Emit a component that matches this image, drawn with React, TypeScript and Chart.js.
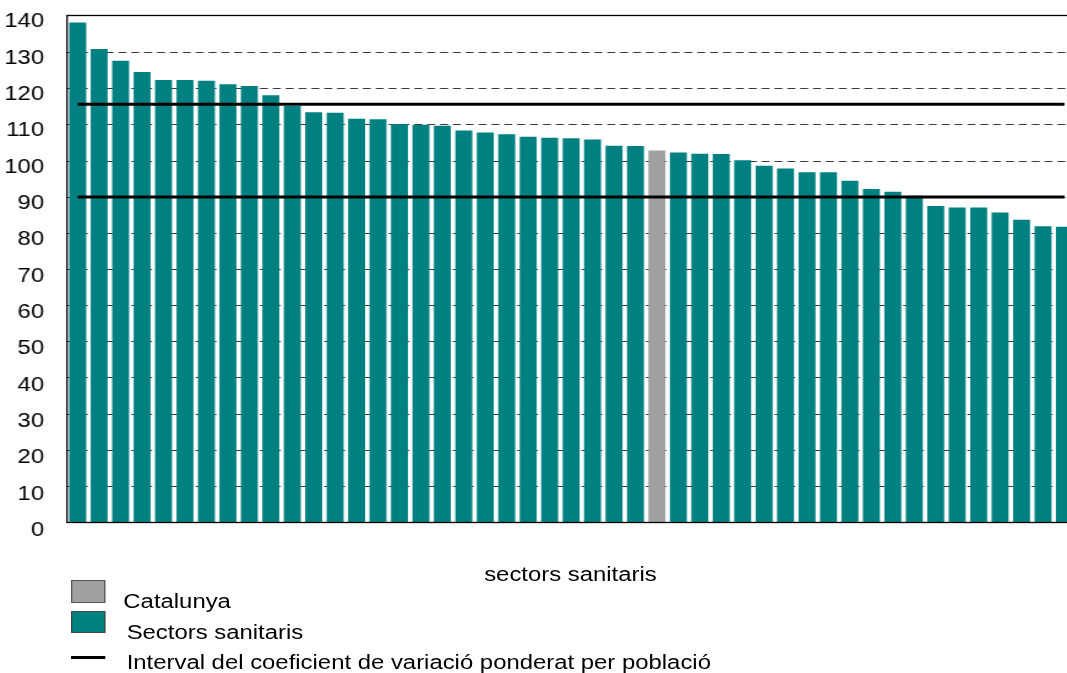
import React, { useEffect, useRef } from "react";
import { Chart, registerables } from "chart.js";

Chart.register(...registerables);

// ---- data ----
const sectorLabels = [
  "S01", "S02", "S03", "S04", "S05", "S06", "S07", "S08", "S09", "S10",
  "S11", "S12", "S13", "S14", "S15", "S16", "S17", "S18", "S19", "S20",
  "S21", "S22", "S23", "S24", "S25", "S26", "S27", "Catalunya", "S28", "S29",
  "S30", "S31", "S32", "S33", "S34", "S35", "S36", "S37", "S38", "S39",
  "S40", "S41", "S42", "S43", "S44", "S45", "S46",
];

const sectorValues = [
  138.2, 130.9, 127.6, 124.5, 122.3, 122.3, 122.1, 121.1, 120.6, 118.1,
  115.1, 113.4, 113.2, 111.6, 111.4, 110.1, 109.9, 109.6, 108.3, 107.8,
  107.3, 106.6, 106.3, 106.2, 105.8, 104.1, 104.0, null, 102.2, 101.9,
  101.8, 100.1, 98.6, 97.8, 96.8, 96.8, 94.4, 92.1, 91.4, 90.3,
  87.4, 87.0, 87.0, 85.6, 83.6, 81.8, 81.7,
];

const catalunyaValues = [
  null, null, null, null, null, null, null, null, null, null,
  null, null, null, null, null, null, null, null, null, null,
  null, null, null, null, null, null, null, 102.8, null, null,
  null, null, null, null, null, null, null, null, null, null,
  null, null, null, null, null, null, null,
];

const upperInterval = 115.6;
const lowerInterval = 89.9;

const yTickLabels = [0, 10, 20, 30, 40, 50, 60, 70, 80, 90, 100, 110, 120, 130, 140];

const xTitle = "sectors sanitaris";
const legendCatalunya = "Catalunya";
const legendSectors = "Sectors sanitaris";
const legendInterval = "Interval del coeficient de variació ponderat per població";

// ---- styling ----
const STRETCH = 1.225;
const CANVAS_W = 880;
const CANVAS_H = 673;
const FONT = '"Liberation Sans", Arial, sans-serif';
const TEAL = "#008080";
const GRAY = "#a0a0a0";

const decorPlugin = {
  id: "decor",
  beforeDatasetsDraw(chart: any) {
    const { ctx, chartArea } = chart;
    const y = chart.scales.y;
    ctx.save();
    ctx.strokeStyle = "#3a3a3a";
    ctx.lineWidth = 1;
    ctx.setLineDash([6.5, 4]);
    yTickLabels.forEach((v) => {
      if (v === 0 || v === 140) return;
      const py = Math.round(y.getPixelForValue(v)) + 0.5;
      ctx.beginPath();
      ctx.moveTo(chartArea.left, py);
      ctx.lineTo(chartArea.right, py);
      ctx.stroke();
    });
    ctx.restore();
  },
  afterDraw(chart: any) {
    const { ctx, chartArea } = chart;
    const y = chart.scales.y;
    ctx.save();
    ctx.strokeStyle = "#000";
    ctx.lineWidth = 1.3;
    ctx.setLineDash([]);
    ctx.strokeRect(
      chartArea.left,
      chartArea.top - 0.5,
      chartArea.right - chartArea.left,
      chartArea.bottom - chartArea.top + 1
    );
    ctx.fillStyle = "#000";
    ctx.font = `19.5px ${FONT}`;
    ctx.textAlign = "right";
    ctx.textBaseline = "middle";
    yTickLabels.forEach((v) => {
      ctx.fillText(String(v), 36, y.getPixelForValue(v) + 6 + (140 - v) * 0.02);
    });
    ctx.restore();
  },
};

export default function App() {
  const canvasRef = useRef<HTMLCanvasElement | null>(null);

  useEffect(() => {
    const canvas = canvasRef.current;
    if (!canvas) return;
    const left = 67 / STRETCH;
    const plotW = (47 * 21.45) / STRETCH;
    const chart = new Chart(canvas, {
      type: "bar",
      data: {
        labels: sectorLabels,
        datasets: [
          {
            type: "line",
            label: "Interval superior",
            data: sectorLabels.map(() => upperInterval),
            borderColor: "#000",
            borderWidth: 3,
            pointRadius: 0,
            fill: false,
            order: 0,
          } as any,
          {
            type: "line",
            label: "Interval inferior",
            data: sectorLabels.map(() => lowerInterval),
            borderColor: "#000",
            borderWidth: 3,
            pointRadius: 0,
            fill: false,
            order: 0,
          } as any,
          {
            type: "bar",
            label: legendSectors,
            data: sectorValues,
            backgroundColor: TEAL,
            borderWidth: 0,
            grouped: false,
            barPercentage: 0.79,
            categoryPercentage: 1,
            order: 1,
          } as any,
          {
            type: "bar",
            label: legendCatalunya,
            data: catalunyaValues,
            backgroundColor: GRAY,
            borderWidth: 0,
            grouped: false,
            barPercentage: 0.79,
            categoryPercentage: 1,
            order: 1,
          } as any,
        ],
      },
      options: {
        responsive: false,
        animation: false,
        devicePixelRatio: 1,
        layout: {
          autoPadding: false,
          padding: {
            left: left,
            top: 16,
            right: CANVAS_W - left - plotW,
            bottom: CANVAS_H - 522,
          },
        },
        plugins: {
          legend: { display: false },
          tooltip: { enabled: false },
          title: { display: false },
        },
        scales: {
          x: {
            type: "category",
            display: false,
            offset: true,
            grid: { display: false },
          },
          y: {
            display: false,
            min: 0,
            max: 140,
            ticks: { stepSize: 10 },
            grid: { display: false },
          },
        },
      } as any,
      plugins: [decorPlugin],
    });
    return () => chart.destroy();
  }, []);

  const textStyle: React.CSSProperties = {
    position: "absolute",
    fontFamily: FONT,
    fontSize: "19.5px",
    lineHeight: "19.5px",
    color: "#000",
    whiteSpace: "nowrap",
  };

  return (
    <div
      style={{
        position: "fixed",
        left: 0,
        top: 0,
        width: 1067,
        height: 673,
        overflow: "hidden",
        background: "#fff",
      }}
    >
      <div
        style={{
          position: "relative",
          width: CANVAS_W,
          height: CANVAS_H,
          transform: `scaleX(${STRETCH})`,
          transformOrigin: "0 0",
        }}
      >
        <canvas
          ref={canvasRef}
          width={CANVAS_W}
          height={CANVAS_H}
          style={{ display: "block", width: CANVAS_W, height: CANVAS_H }}
        />
        <div style={{ ...textStyle, left: 465.7, top: 564.5, transform: "translateX(-50%)" }}>
          {xTitle}
        </div>
        <div
          style={{
            position: "absolute",
            left: 57.7,
            top: 580,
            width: 28.3,
            height: 22.5,
            background: GRAY,
            border: "1px solid #555",
            boxSizing: "border-box",
          }}
        />
        <div style={{ ...textStyle, left: 100.7, top: 592 }}>{legendCatalunya}</div>
        <div
          style={{
            position: "absolute",
            left: 57.7,
            top: 610.5,
            width: 28.3,
            height: 22.5,
            background: TEAL,
            border: "1px solid #444",
            boxSizing: "border-box",
          }}
        />
        <div style={{ ...textStyle, left: 103.4, top: 622.5 }}>{legendSectors}</div>
        <div
          style={{
            position: "absolute",
            left: 57.7,
            top: 655.5,
            width: 28.3,
            height: 3,
            background: "#000",
          }}
        />
        <div style={{ ...textStyle, left: 103.4, top: 652.8 }}>{legendInterval}</div>
      </div>
    </div>
  );
}
